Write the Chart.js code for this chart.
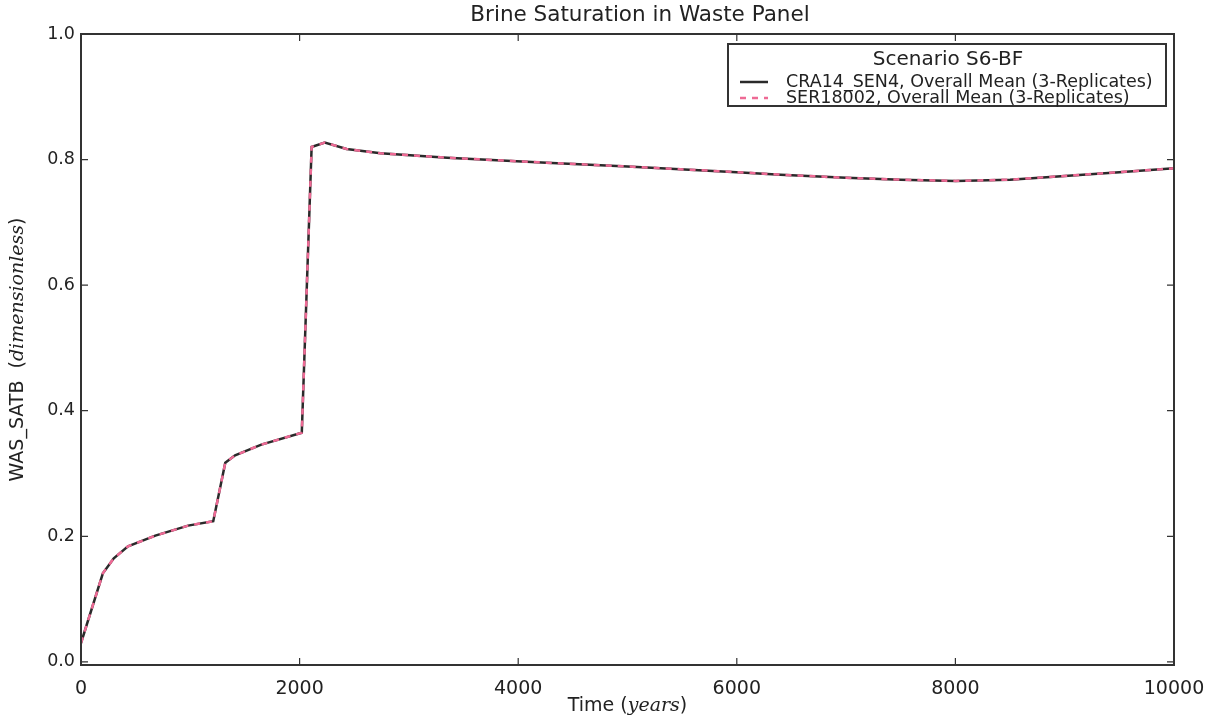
<!DOCTYPE html>
<html>
<head>
<meta charset="utf-8">
<script src="https://cdn.jsdelivr.net/npm/chart.js@4/dist/chart.umd.min.js"></script>
<style>
  html, body { margin: 0; padding: 0; background: #fff; }
  #wrap { width: 1212px; height: 727px; }
</style>
</head>
<body>
<div id="wrap"><canvas id="chart" width="1212" height="727"></canvas></div>
<script>
// values
const years = [0, 200, 300, 430, 680, 980, 1210, 1320, 1410, 1650, 2020, 2110, 2230, 2430, 2740, 3350, 4260, 5000, 6000, 6400, 7000, 7500, 8000, 8500, 9000, 9500, 10000];
const cra14Sen4 = [0.03, 0.141, 0.165, 0.184, 0.201, 0.217, 0.224, 0.317, 0.329, 0.346, 0.365, 0.820, 0.827, 0.817, 0.810, 0.803, 0.795, 0.789, 0.780, 0.776, 0.771, 0.768, 0.766, 0.768, 0.774, 0.780, 0.786];
const ser18002 = [0.03, 0.141, 0.165, 0.184, 0.201, 0.217, 0.224, 0.317, 0.329, 0.346, 0.365, 0.820, 0.827, 0.817, 0.810, 0.803, 0.795, 0.789, 0.780, 0.776, 0.771, 0.768, 0.766, 0.768, 0.774, 0.780, 0.786];
const xTicks = [0, 2000, 4000, 6000, 8000, 10000];
const yTicks = [0.0, 0.2, 0.4, 0.6, 0.8, 1.0];

const FONT = "'DejaVu Sans', sans-serif";
const INK = '#222';

function pts(vals) {
  return years.map((t, i) => ({ x: t, y: vals[i] }));
}

// draws mixed regular / italic text centred on (cx, cy)
function mixedText(ctx, parts, cx, cy) {
  let w = 0;
  parts.forEach(p => { ctx.font = p[1]; w += ctx.measureText(p[0]).width; });
  let x = cx - w / 2;
  ctx.textAlign = 'left';
  parts.forEach(p => { ctx.font = p[1]; ctx.fillText(p[0], x, cy); x += ctx.measureText(p[0]).width; });
}

// box around the plot, inward ticks on all sides, titles, legend
const framePlugin = {
  id: 'frame',
  afterDraw(chart) {
    const ctx = chart.ctx;
    const a = chart.chartArea;
    const xs = chart.scales.x, ys = chart.scales.y;
    ctx.save();
    ctx.strokeStyle = '#333';
    ctx.lineWidth = 2;
    ctx.strokeRect(a.left, a.top, a.right - a.left, a.bottom - a.top);
    ctx.lineWidth = 1.2;
    ctx.beginPath();
    xTicks.forEach(v => {
      const px = xs.getPixelForValue(v);
      ctx.moveTo(px, a.bottom); ctx.lineTo(px, a.bottom - 7);
      ctx.moveTo(px, a.top); ctx.lineTo(px, a.top + 7);
    });
    yTicks.forEach(v => {
      const py = ys.getPixelForValue(v);
      ctx.moveTo(a.left, py); ctx.lineTo(a.left + 7, py);
      ctx.moveTo(a.right, py); ctx.lineTo(a.right - 7, py);
    });
    ctx.stroke();

    ctx.fillStyle = INK;
    ctx.textBaseline = 'middle';
    ctx.font = '21.5px ' + FONT;
    ctx.textAlign = 'center';
    ctx.fillText('Brine Saturation in Waste Panel', 640, 15);

    mixedText(ctx, [['Time (', '19px ' + FONT], ['years', 'italic 19px "DejaVu Serif", serif'], [')', '19px ' + FONT]],
      (a.left + a.right) / 2, 706);

    ctx.save();
    ctx.translate(18, (a.top + a.bottom) / 2);
    ctx.rotate(-Math.PI / 2);
    mixedText(ctx, [['WAS_SATB  (', '19px ' + FONT], ['dimensionless', 'italic 19px "DejaVu Serif", serif'], [')', '19px ' + FONT]], 0, 0);
    ctx.restore();

    // legend box inside top right
    const bx = 728, by = 44, bw = 438, bh = 62;
    ctx.fillStyle = '#fff';
    ctx.fillRect(bx, by, bw, bh);
    ctx.strokeStyle = '#333';
    ctx.lineWidth = 2;
    ctx.strokeRect(bx, by, bw, bh);
    ctx.fillStyle = INK;
    ctx.font = '20px ' + FONT;
    ctx.textAlign = 'center';
    ctx.fillText('Scenario S6-BF', bx + bw / 2 + 1, by + 16);
    chart.data.datasets.forEach((ds, i) => {
      const ry = by + 38 + i * 16;
      ctx.strokeStyle = ds.borderColor;
      ctx.lineWidth = ds.borderWidth;
      ctx.setLineDash(ds.borderDash || []);
      ctx.beginPath();
      ctx.moveTo(bx + 12, ry); ctx.lineTo(bx + 40, ry);
      ctx.stroke();
      ctx.setLineDash([]);
      ctx.fillStyle = INK;
      ctx.font = '17.5px ' + FONT;
      ctx.textAlign = 'left';
      ctx.fillText(ds.label, bx + 58, ry);
    });
    ctx.restore();
  }
};

const ctx = document.getElementById('chart').getContext('2d');
const myChart = new Chart(ctx, {
  type: 'line',
  data: {
    datasets: [
      {
        label: 'CRA14_SEN4, Overall Mean (3-Replicates)',
        data: pts(cra14Sen4),
        borderColor: '#2a2a2a',
        borderWidth: 2.5,
        pointRadius: 0,
        tension: 0,
        fill: false,
        order: 2,
      },
      {
        label: 'SER18002, Overall Mean (3-Replicates)',
        data: pts(ser18002),
        borderColor: '#ee6a95',
        borderWidth: 2.5,
        borderDash: [6, 6],
        pointRadius: 0,
        tension: 0,
        fill: false,
        order: 1,
      },
    ],
  },
  options: {
    responsive: false,
    animation: false,
    layout: { padding: { left: 0, right: 38, top: 34, bottom: 0 } },
    plugins: {
      legend: { display: false },
      tooltip: { enabled: false },
      title: { display: false },
    },
    scales: {
      x: {
        type: 'linear',
        min: 0,
        max: 10000,
        grid: { display: false },
        border: { display: false },
        afterBuildTicks: s => { s.ticks = xTicks.map(v => ({ value: v })); },
        afterFit: s => { s.height = 62; },
        ticks: {
          color: INK,
          padding: 5,
          maxRotation: 0,
          font: { family: FONT, size: 19 },
          callback: v => String(v),
        },
      },
      y: {
        min: -0.005,
        max: 1.0,
        grid: { display: false },
        border: { display: false },
        afterBuildTicks: s => { s.ticks = yTicks.map(v => ({ value: v })); },
        afterFit: s => { s.width = 81; },
        ticks: {
          color: INK,
          padding: -2,
          font: { family: FONT, size: 17.5 },
          callback: v => Number(v).toFixed(1),
        },
      },
    },
  },
  plugins: [framePlugin],
});
</script>
</body>
</html>
